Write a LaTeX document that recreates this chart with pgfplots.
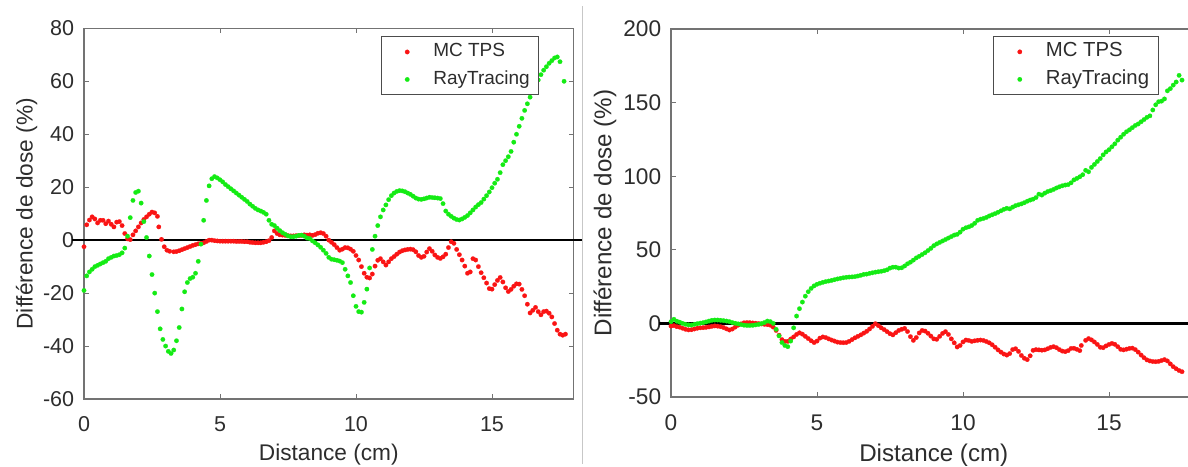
\documentclass[border=0pt]{standalone}
\usepackage{pgfplots}
\pgfplotsset{compat=1.18}
\usepackage{fontspec}
\setmainfont{Liberation Sans}
\definecolor{myred}{RGB}{250,20,20}
\definecolor{mygreen}{RGB}{20,235,20}
\definecolor{txt}{RGB}{45,45,45}
\pgfplotsset{
  dotlegend/.style={legend image code/.code={\path[draw=none,fill=none] (0cm,-0.1cm) rectangle (0.92cm,0.1cm); \draw[mark repeat=2,mark phase=2,##1] plot coordinates {(0cm,0cm) (0.44cm,0cm) (0.92cm,0cm)};}},
  mystyle/.style={
    scale only axis,
    xmin=0, xmax=18,
    xtick={0,5,10,15},
    tick align=inside,
    major tick length=3pt,
    axis line style={draw=black!55, line width=0.8pt},
    tick style={draw=black!55, line width=0.6pt},
    /pgf/number format/assume math mode=true,
    tick label style={font=\fontsize{12.9}{14}\selectfont, text=txt},
    xticklabel style={yshift=-7pt},
    yticklabel style={xshift=-2.4pt},
    label style={font=\fontsize{13.6}{15}\selectfont, text=txt},
    xlabel={Distance (cm)},
    ylabel={Différence de dose (\%)},
    clip=false,
    legend cell align=left,
    legend style={draw=black!70, line width=0.6pt, fill=white, anchor=north east,
      font=\fontsize{11.4}{13}\selectfont, text=txt, inner ysep=1.5pt, inner xsep=2.5pt,
      nodes={text height=8.5pt, text depth=2.5pt}, row sep=1.5pt},
  },
  dots/.style={only marks, mark=*, mark size=1.35pt, color=#1, mark options={draw=#1, fill=#1, line width=0.1pt}, dotlegend},
}
\begin{document}
\begin{tikzpicture}
\useasboundingbox (0,0) rectangle (712.8pt,279.6pt);
\draw[black!22, line width=0.6pt] (349.5pt,1.5pt) -- (349.5pt,276pt);
\begin{axis}[mystyle,
  at={(50.4pt,40.2pt)}, anchor=south west,
  width=293.76pt, height=222.4pt,
  ymin=-60, ymax=80, ytick={-60,-40,-20,0,20,40,60,80},
  xlabel style={at={(axis description cs:0.5,-0.151)}, anchor=center},
  ylabel style={at={(axis description cs:-0.1174,0.5)}, anchor=center},
  legend style={at={(0.9285,0.978)}, inner xsep=3pt},
]
\addplot[dots=myred] coordinates {
(0.0,-2.5)(0.1,5.8)(0.2,7.6)(0.3,8.8)(0.4,8)(0.5,6.5)(0.6,7.5)(0.7,7.5)(0.8,6.2)(0.9,7.2)
(1.0,6)(1.1,5)(1.2,6.8)(1.3,7)(1.4,5.5)(1.5,2.5)(1.6,0.5)(1.7,0.2)(1.8,2)(1.9,3.5)
(2.0,5)(2.1,6.5)(2.2,7.8)(2.3,8.8)(2.4,9.8)(2.5,10.6)(2.6,10.3)(2.7,9)(2.75,5)(2.85,0.3)
(2.95,-2.5)(3.05,-3.8)(3.15,-4.2)(3.3,-4.4)(3.4,-4.3)(3.5,-4)(3.6,-3.6)(3.7,-3.2)(3.8,-2.8)(3.9,-2.4)
(4.0,-2.0)(4.1,-1.7)(4.2,-1.4)(4.3,-1.2)(4.4,-1.0)(4.5,-0.5)(4.6,0)(4.7,0)(4.8,-0.2)(4.9,-0.3)
(5.0,-0.4)(5.1,-0.4)(5.2,-0.4)(5.3,-0.4)(5.4,-0.4)(5.5,-0.4)(5.6,-0.5)(5.7,-0.5)(5.8,-0.5)(5.9,-0.6)
(6.0,-0.6)(6.1,-0.8)(6.2,-0.9)(6.3,-1)(6.4,-1)(6.5,-1)(6.6,-0.8)(6.7,-0.6)(6.8,-0.2)(6.9,1)
(7.0,3.5)(7.1,2.5)(7.2,2)(7.3,1.9)(7.4,1.8)(7.5,1.7)(7.6,1.6)(7.7,1.6)(7.8,1.7)(7.9,1.7)
(8.0,1.8)(8.1,2.0)(8.2,1.9)(8.3,2.0)(8.4,1.8)(8.5,2.1)(8.6,2.6)(8.7,2.8)(8.8,2.5)(8.9,1.5)
(9.0,0)(9.1,-0.8)(9.2,-1.7)(9.3,-2.8)(9.4,-3.8)(9.5,-3.4)(9.6,-2.8)(9.7,-2.9)(9.8,-3.4)(9.9,-4.2)
(10.0,-5.8)(10.1,-7.5)(10.2,-10)(10.3,-12.5)(10.4,-14)(10.5,-14.3)(10.6,-12.8)(10.7,-9.8)(10.8,-7.6)(10.9,-7)
(11.0,-8.2)(11.1,-9.4)(11.2,-8.2)(11.3,-7)(11.4,-6.2)(11.5,-5.3)(11.6,-4.5)(11.7,-4.0)(11.8,-3.7)(11.9,-3.5)
(12.0,-3.4)(12.1,-3.6)(12.2,-4.4)(12.3,-5.8)(12.4,-6.5)(12.5,-6.1)(12.6,-4.5)(12.7,-3.2)(12.8,-4.2)(12.9,-5.6)
(13.0,-6.5)(13.1,-6.9)(13.2,-6.3)(13.3,-5.3)(13.4,-2.8)(13.5,-0.6)(13.6,-1.2)(13.7,-3.5)(13.8,-5.5)(13.9,-7.5)
(14.0,-9.8)(14.1,-12.5)(14.2,-12)(14.3,-7)(14.4,-7.5)(14.5,-10)(14.6,-12.3)(14.7,-14.2)(14.8,-16.2)(14.9,-18.3)
(15.0,-18.5)(15.1,-16.8)(15.2,-15.2)(15.3,-14.1)(15.4,-15.8)(15.5,-18)(15.6,-19.4)(15.7,-18.6)(15.8,-17.4)(15.9,-16.5)
(16.0,-16.6)(16.1,-18.6)(16.2,-21)(16.3,-24.2)(16.4,-27.5)(16.5,-26.5)(16.6,-25.4)(16.7,-27)(16.8,-28.2)(16.9,-27)
(17.0,-26.8)(17.1,-27.6)(17.2,-29)(17.3,-31.5)(17.4,-34)(17.5,-35.5)(17.6,-35.9)(17.7,-35.5)
};
\addlegendentry{MC TPS}
\addplot[dots=mygreen] coordinates {
(0.0,-19)(0.1,-13.5)(0.2,-12)(0.3,-11)(0.4,-10)(0.5,-9.5)(0.6,-9)(0.7,-8.5)(0.8,-8)(0.9,-7)
(1.0,-6.5)(1.1,-6)(1.2,-5.8)(1.3,-5.5)(1.4,-4.8)(1.5,-3)(1.6,1.5)(1.7,8.5)(1.8,15)(1.9,18)
(2.0,18.5)(2.1,14)(2.2,7)(2.3,1)(2.4,-6)(2.5,-13)(2.6,-20)(2.7,-27)(2.8,-33.5)(2.9,-37.5)
(3.0,-40)(3.1,-42)(3.2,-42.8)(3.3,-41.5)(3.4,-38)(3.5,-33)(3.6,-26)(3.7,-19.5)(3.8,-16)(3.9,-14.5)
(4.0,-14)(4.1,-12.5)(4.2,-8)(4.3,-1.5)(4.4,7.5)(4.5,15)(4.6,20.5)(4.7,23.2)(4.8,24)(4.9,23.5)
(5.0,22.8)(5.1,22)(5.2,21)(5.3,20.2)(5.4,19.4)(5.5,18.6)(5.6,17.8)(5.7,17)(5.8,16.2)(5.9,15.4)
(6.0,14.6)(6.1,13.6)(6.2,12.8)(6.3,12)(6.4,11.4)(6.5,11)(6.6,10.5)(6.7,9.8)(6.8,7.5)(6.9,6)
(7.0,5.5)(7.1,4.5)(7.2,3.6)(7.3,2.8)(7.4,2.2)(7.5,1.6)(7.6,1.3)(7.7,1.3)(7.8,1.5)(7.9,1.8)
(8.0,1.9)(8.1,1.5)(8.2,0.8)(8.3,0.6)(8.4,-0.3)(8.5,-1)(8.6,-1.8)(8.7,-2.7)(8.8,-3.8)(8.9,-5)
(9.0,-6.5)(9.1,-7.2)(9.2,-7.4)(9.3,-7.6)(9.4,-7.9)(9.5,-8.5)(9.6,-11)(9.7,-13.5)(9.8,-16)(9.9,-21)
(10.0,-25)(10.1,-27)(10.2,-27.2)(10.3,-23.5)(10.4,-18.5)(10.5,-10.5)(10.6,-3.5)(10.7,1.5)(10.8,5.5)(10.9,8.8)
(11.0,11.4)(11.1,13.3)(11.2,15.3)(11.3,16.8)(11.4,17.8)(11.5,18.4)(11.6,18.7)(11.7,18.6)(11.8,18.3)(11.9,17.8)
(12.0,17.3)(12.1,16.6)(12.2,15.9)(12.3,15.5)(12.4,15.4)(12.5,15.6)(12.6,15.9)(12.7,16.2)(12.8,16.1)(12.9,16)
(13.0,15.9)(13.1,15.7)(13.2,13.8)(13.3,11)(13.4,9.8)(13.5,9)(13.6,8.3)(13.7,7.8)(13.8,7.6)(13.9,8)
(14.0,8.6)(14.1,9.3)(14.2,10.3)(14.3,11.4)(14.4,12.5)(14.5,13.4)(14.6,14.2)(14.7,15.5)(14.8,16.8)(14.9,18.2)
(15.0,19.8)(15.1,21.5)(15.2,23)(15.3,25.5)(15.4,28.5)(15.5,30)(15.6,31.5)(15.7,33.5)(15.8,37)(15.9,40)
(16.0,43)(16.1,46)(16.2,49)(16.3,51.5)(16.4,54)(16.5,56.5)(16.6,58.5)(16.7,60.5)(16.8,62.5)(16.9,64.2)
(17.0,65.5)(17.1,66.8)(17.2,67.8)(17.3,68.8)(17.4,69.2)(17.5,67.4)(17.65,60)
};
\addlegendentry{RayTracing}
\addplot[black, line width=1.5pt, forget plot] coordinates {(-0.44,0) (18.3,0)};
\end{axis}
\begin{axis}[mystyle,
  at={(402.6pt,41.4pt)}, anchor=south west,
  width=315.36pt, height=220.8pt,
  ymin=-50, ymax=200, ytick={-50,0,50,100,150,200},
  tick label style={font=\fontsize{13.6}{15}\selectfont},
  label style={font=\fontsize{14.5}{16}\selectfont},
  xlabel style={at={(axis description cs:0.5,-0.1576)}, anchor=center},
  ylabel style={at={(axis description cs:-0.1256,0.5)}, anchor=center},
  legend style={at={(0.928,0.98)}, font=\fontsize{12.2}{14}\selectfont, inner xsep=3.5pt},
]
\addplot[dots=myred] coordinates {
(0.0,-1.8)(0.1,-1.5)(0.2,-2.2)(0.3,-2.6)(0.4,-3.3)(0.5,-4)(0.6,-4.4)(0.7,-4.3)(0.8,-3.8)(0.9,-3.3)
(1.0,-3)(1.1,-2.9)(1.2,-2.7)(1.3,-2.4)(1.4,-2)(1.5,-1.7)(1.6,-1.9)(1.7,-2.2)(1.8,-2.8)(1.9,-3.7)
(2.0,-4.5)(2.1,-3.8)(2.2,-2.5)(2.3,-1.2)(2.4,-0.3)(2.5,0.4)(2.6,0.6)(2.7,0.5)(2.8,0.3)(2.9,0.1)
(3.0,-0.1)(3.1,-0.4)(3.2,-0.6)(3.3,-0.8)(3.4,-1.2)(3.5,-2.5)(3.6,-4.8)(3.7,-8)(3.8,-11)(3.9,-12.2)
(4.0,-12.2)(4.1,-10.6)(4.2,-9.2)(4.3,-7.5)(4.4,-6.4)(4.5,-7.3)(4.6,-8.8)(4.7,-10.3)(4.8,-11.8)(4.9,-13)
(5.0,-12)(5.1,-10)(5.2,-9.2)(5.3,-9.6)(5.4,-10.5)(5.5,-11.3)(5.6,-12)(5.7,-12.7)(5.8,-13)(5.9,-13.1)
(6.0,-13)(6.1,-12.2)(6.2,-11)(6.3,-9.8)(6.4,-8.8)(6.5,-7.8)(6.6,-6.6)(6.7,-5.4)(6.8,-3.8)(6.9,-2)
(7.0,-0.2)(7.1,-1.5)(7.2,-3)(7.3,-4.2)(7.4,-5.6)(7.5,-7)(7.6,-7.8)(7.7,-6.3)(7.8,-4.8)(7.9,-4)
(8.0,-3.4)(8.1,-5.5)(8.2,-9)(8.3,-11.5)(8.4,-9.6)(8.5,-6.5)(8.6,-4.8)(8.7,-5.2)(8.8,-6.7)(8.9,-8.6)
(9.0,-10.5)(9.1,-10.8)(9.2,-8.8)(9.3,-6.8)(9.4,-5.6)(9.5,-7.5)(9.6,-10.5)(9.7,-13.2)(9.8,-16)(9.9,-15)
(10.0,-12.6)(10.1,-11.3)(10.2,-11.6)(10.3,-12.2)(10.4,-11.8)(10.5,-11.5)(10.6,-11.3)(10.7,-11.6)(10.8,-12.3)(10.9,-13.2)
(11.0,-14.5)(11.1,-16.2)(11.2,-18)(11.3,-19.5)(11.4,-20.8)(11.5,-21.5)(11.6,-20.5)(11.7,-17.8)(11.8,-17.2)(11.9,-19)
(12.0,-21.8)(12.1,-23.7)(12.2,-24.6)(12.3,-22)(12.4,-18.3)(12.5,-17.8)(12.6,-18)(12.7,-18.2)(12.8,-18)(12.9,-17.2)
(13.0,-16.3)(13.1,-15.8)(13.2,-16.5)(13.3,-17.8)(13.4,-18.8)(13.5,-19.2)(13.6,-18.5)(13.7,-17)(13.8,-16.9)(13.9,-17.6)
(14.0,-18.5)(14.05,-15)(14.2,-11.5)(14.3,-10.3)(14.4,-11.2)(14.5,-12.6)(14.6,-14.3)(14.7,-16.2)(14.8,-16.5)(14.9,-15.3)
(15.0,-14.3)(15.1,-13.6)(15.2,-14.2)(15.3,-15.8)(15.4,-17.6)(15.5,-18)(15.6,-17.5)(15.7,-17)(15.8,-16.8)(15.9,-17.8)
(16.0,-19.5)(16.1,-21.5)(16.2,-23.3)(16.3,-24.8)(16.4,-25.5)(16.5,-25.9)(16.6,-26)(16.7,-25.8)(16.8,-25.2)(16.9,-24.6)
(17.0,-25.5)(17.1,-27.5)(17.2,-29.4)(17.3,-30.8)(17.4,-32)(17.5,-32.8)
};
\addlegendentry{MC TPS}
\addplot[dots=mygreen] coordinates {
(0.0,1.2)(0.1,2.8)(0.2,1.5)(0.3,0.8)(0.4,0)(0.5,-0.6)(0.6,-1)(0.7,-1.1)(0.8,-0.6)(0.9,-0.2)
(1.0,0.2)(1.1,0.5)(1.2,1)(1.3,1.6)(1.4,2.1)(1.5,2.3)(1.6,2.3)(1.7,2.1)(1.8,1.9)(1.9,1.6)
(2.0,1.2)(2.1,0.6)(2.2,0.1)(2.3,-0.3)(2.4,-0.8)(2.5,-1.2)(2.6,-1.4)(2.7,-1.4)(2.8,-1.3)(2.9,-1)
(3.0,-0.7)(3.1,-0.1)(3.2,0.6)(3.3,1.6)(3.4,1.2)(3.5,0)(3.6,-4)(3.7,-8.5)(3.8,-13)(3.9,-15)
(4.0,-15.8)(4.1,-12)(4.2,-3)(4.3,5)(4.4,10)(4.5,14.5)(4.6,18.5)(4.7,21.5)(4.8,23.8)(4.9,25.5)
(5.0,26.6)(5.1,27.3)(5.2,27.9)(5.3,28.4)(5.4,28.8)(5.5,29.2)(5.6,29.7)(5.7,30.2)(5.8,30.6)(5.9,31)
(6.0,31.3)(6.1,31.5)(6.2,31.6)(6.3,31.8)(6.4,32.2)(6.5,32.7)(6.6,33.3)(6.7,33.5)(6.8,34)(6.9,34.4)
(7.0,34.8)(7.1,35.1)(7.2,35.4)(7.3,35.8)(7.4,36.4)(7.5,37.6)(7.6,38.2)(7.7,38.2)(7.8,37.6)(7.9,37.8)
(8.0,39)(8.1,40.5)(8.2,41.6)(8.3,43)(8.4,44.5)(8.5,45.6)(8.6,46.8)(8.7,48)(8.8,49.5)(8.9,51)
(9.0,52.8)(9.1,54)(9.2,55)(9.3,56)(9.4,57)(9.5,58)(9.6,59)(9.7,60)(9.8,60.5)(9.9,62)
(10.0,64)(10.1,65)(10.2,65.6)(10.3,66.5)(10.4,68)(10.5,70)(10.6,70.8)(10.7,71.3)(10.8,72)(10.9,73)
(11.0,73.8)(11.1,74.6)(11.2,75.5)(11.3,76.5)(11.4,77.5)(11.5,78.2)(11.6,77.8)(11.7,79)(11.8,80)(11.9,80.6)
(12.0,81.2)(12.1,82)(12.2,83)(12.3,83.8)(12.4,84.4)(12.5,85.5)(12.6,87.8)(12.7,87.2)(12.8,88.5)(12.9,89.6)
(13.0,90.2)(13.1,91)(13.2,92)(13.3,92.8)(13.4,93.5)(13.5,94)(13.6,94.3)(13.7,95.5)(13.8,97.5)(13.9,98.5)
(14.0,99.6)(14.1,101)(14.2,104)(14.3,103)(14.4,106)(14.5,108)(14.6,110)(14.7,112)(14.8,114.5)(14.9,116.5)
(15.0,118)(15.1,120)(15.2,122)(15.3,124.5)(15.4,126.5)(15.5,128.5)(15.6,130.2)(15.7,131.5)(15.8,133)(15.9,134.5)
(16.0,135.5)(16.1,137)(16.2,138.5)(16.3,140)(16.4,141)(16.5,145)(16.6,148.5)(16.7,150.6)(16.8,151)(16.9,152.5)
(17.0,158)(17.1,159.5)(17.2,161.9)(17.3,164)(17.4,168.5)(17.5,165.3)
};
\addlegendentry{RayTracing}
\addplot[black, line width=1.5pt, forget plot] coordinates {(-0.4,0) (18.5,0)};
\end{axis}
\end{tikzpicture}
\end{document}
